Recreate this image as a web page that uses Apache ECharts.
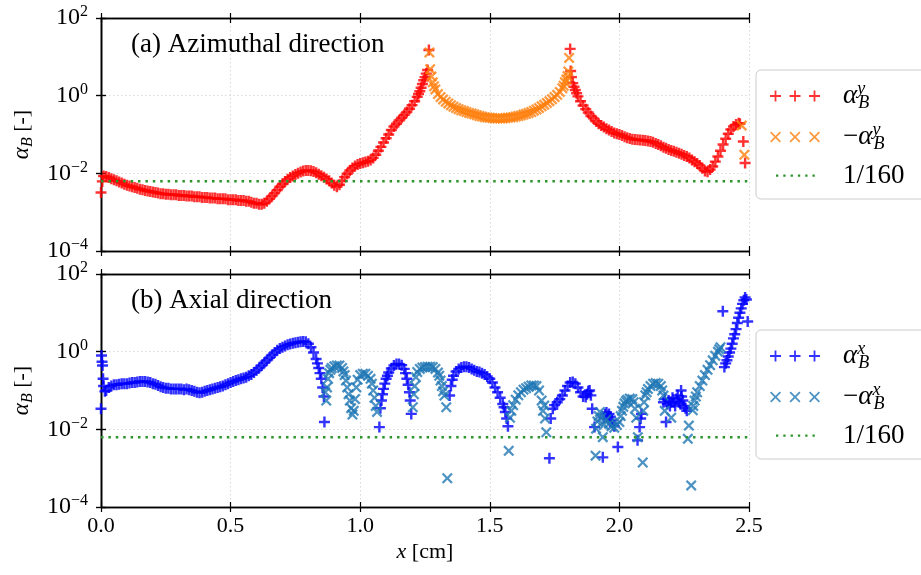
<!DOCTYPE html>
<html><head><meta charset="utf-8">
<script src="https://cdn.jsdelivr.net/npm/echarts@6/dist/echarts.min.js"></script>
<style>html,body{margin:0;padding:0;background:#fff}#c{width:921px;height:575px}</style>
</head><body><div id="c"></div>
<script>
// ---------------- DATA ----------------
const threshold = 1 / 160;
const xExtent = [0, 2.5];
const xTicks = [0, 0.5, 1.0, 1.5, 2.0, 2.5];
const yExtent = [1e-4, 1e2];

// (a) azimuthal: alpha_B^y > 0 (red +)
const azimuthalPlus = [[0,0.0032],[0.005,0.0062],[0.01,0.0085],[0.02,0.0083],[0.03,0.0078],[0.04,0.0073],[0.05,0.0068],[0.06,0.0064],[0.07,0.006],[0.08,0.0056],[0.09,0.0052],[0.1,0.0049],[0.11,0.0047],[0.12,0.0045],[0.13,0.0043],[0.14,0.0041],[0.15,0.0039],[0.16,0.0038],[0.17,0.0036],[0.18,0.0035],[0.19,0.0034],[0.2,0.0033],[0.21,0.0032],[0.22,0.0031],[0.23,0.003],[0.24,0.003],[0.25,0.0029],[0.26,0.0029],[0.27,0.0028],[0.28,0.0028],[0.29,0.0028],[0.3,0.0027],[0.31,0.0027],[0.32,0.0027],[0.33,0.0026],[0.34,0.0026],[0.35,0.0026],[0.36,0.0025],[0.37,0.0025],[0.38,0.0025],[0.39,0.0024],[0.4,0.0024],[0.41,0.0024],[0.42,0.0023],[0.43,0.0023],[0.44,0.0023],[0.45,0.0022],[0.46,0.0022],[0.47,0.0022],[0.48,0.0022],[0.49,0.0021],[0.5,0.0021],[0.51,0.0021],[0.52,0.0021],[0.53,0.002],[0.54,0.002],[0.55,0.002],[0.56,0.0019],[0.57,0.0019],[0.58,0.0018],[0.59,0.0017],[0.6,0.0017],[0.61,0.0016],[0.62,0.0016],[0.63,0.0017],[0.64,0.0019],[0.65,0.0022],[0.66,0.0026],[0.67,0.0031],[0.68,0.0037],[0.69,0.0045],[0.7,0.0053],[0.71,0.0062],[0.72,0.007],[0.73,0.0078],[0.74,0.0086],[0.75,0.0094],[0.76,0.0101],[0.77,0.0108],[0.78,0.0114],[0.79,0.0118],[0.8,0.0119],[0.81,0.0117],[0.82,0.0112],[0.83,0.0104],[0.84,0.0095],[0.85,0.0087],[0.86,0.0079],[0.87,0.0071],[0.88,0.0064],[0.89,0.0056],[0.9,0.0049],[0.91,0.0045],[0.92,0.0051],[0.93,0.0064],[0.94,0.008],[0.95,0.0098],[0.96,0.0118],[0.97,0.0138],[0.98,0.0155],[0.99,0.0168],[1,0.0178],[1.01,0.0186],[1.02,0.0195],[1.03,0.0205],[1.04,0.022],[1.05,0.025],[1.06,0.03],[1.07,0.038],[1.08,0.048],[1.09,0.062],[1.1,0.08],[1.11,0.1],[1.12,0.13],[1.13,0.16],[1.14,0.19],[1.15,0.23],[1.16,0.27],[1.17,0.32],[1.18,0.38],[1.19,0.46],[1.2,0.57],[1.21,0.72],[1.22,0.93],[1.225,1.1],[1.23,1.3],[1.235,1.6],[1.24,2],[1.245,2.5],[1.25,3],[1.255,3.7],[1.26,4.6],[1.265,15],
[1.81,16],[1.812,4.3],[1.815,3],[1.82,2.1],[1.825,1.7],[1.83,1.4],[1.835,1.15],[1.84,0.96],[1.85,0.72],[1.86,0.56],[1.87,0.45],[1.88,0.37],[1.89,0.3],[1.9,0.26],[1.91,0.22],[1.92,0.19],[1.93,0.17],[1.94,0.155],[1.95,0.14],[1.96,0.13],[1.97,0.12],[1.98,0.11],[1.99,0.105],[2,0.1],[2.01,0.094],[2.02,0.088],[2.03,0.083],[2.04,0.079],[2.05,0.076],[2.06,0.074],[2.07,0.073],[2.08,0.072],[2.09,0.071],[2.1,0.07],[2.11,0.068],[2.12,0.066],[2.13,0.063],[2.14,0.059],[2.15,0.055],[2.16,0.051],[2.17,0.047],[2.18,0.044],[2.19,0.041],[2.2,0.039],[2.21,0.037],[2.22,0.035],[2.23,0.033],[2.24,0.031],[2.25,0.029],[2.26,0.027],[2.27,0.025],[2.28,0.022],[2.29,0.02],[2.3,0.018],[2.31,0.016],[2.32,0.0135],[2.33,0.0115],[2.34,0.011],[2.35,0.0125],[2.36,0.015],[2.37,0.02],[2.38,0.027],[2.39,0.038],[2.4,0.055],[2.41,0.078],[2.42,0.105],[2.43,0.135],[2.44,0.16],[2.45,0.18],[2.46,0.195],[2.465,0.19],[2.478,0.066],[2.485,0.0185]];

// (a) azimuthal: -alpha_B^y > 0 (orange x)
const azimuthalMinus = [[1.267,13],[1.27,4.8],[1.275,3.1],[1.28,2.2],[1.285,1.75],[1.29,1.45],[1.3,1.1],[1.31,0.92],[1.32,0.8],[1.33,0.7],[1.34,0.63],[1.35,0.57],[1.36,0.52],[1.37,0.48],[1.38,0.45],[1.39,0.42],[1.4,0.4],[1.41,0.38],[1.42,0.36],[1.43,0.345],[1.44,0.33],[1.45,0.315],[1.46,0.3],[1.47,0.29],[1.48,0.28],[1.49,0.275],[1.5,0.27],[1.51,0.265],[1.52,0.26],[1.53,0.26],[1.54,0.26],[1.55,0.26],[1.56,0.265],[1.57,0.27],[1.58,0.275],[1.59,0.28],[1.6,0.29],[1.61,0.3],[1.62,0.31],[1.63,0.325],[1.64,0.34],[1.65,0.36],[1.66,0.38],[1.67,0.41],[1.68,0.44],[1.69,0.48],[1.7,0.53],[1.71,0.58],[1.72,0.65],[1.73,0.72],[1.74,0.81],[1.75,0.92],[1.76,1.05],[1.77,1.25],[1.78,1.55],[1.785,1.8],[1.79,2.2],[1.795,2.6],[1.8,3.2],[1.803,4.2],[1.806,9.4],[2.472,0.17],[2.482,0.03]];

// (b) axial: alpha_B^x > 0 (blue +)
const axialPlus = [[0,0.034],[0.002,0.8],[0.004,0.55],[0.006,0.44],[0.008,0.2],[0.01,0.13],[0.015,0.095],[0.02,0.1],[0.03,0.12],[0.04,0.13],[0.05,0.14],[0.06,0.14],[0.07,0.145],[0.08,0.15],[0.09,0.15],[0.1,0.15],[0.11,0.155],[0.12,0.16],[0.13,0.16],[0.14,0.165],[0.15,0.17],[0.16,0.17],[0.17,0.17],[0.18,0.165],[0.19,0.16],[0.2,0.15],[0.21,0.145],[0.22,0.135],[0.23,0.125],[0.24,0.12],[0.25,0.115],[0.26,0.115],[0.27,0.11],[0.28,0.11],[0.29,0.11],[0.3,0.11],[0.31,0.11],[0.32,0.105],[0.33,0.11],[0.34,0.105],[0.35,0.1],[0.36,0.095],[0.37,0.09],[0.38,0.088],[0.39,0.09],[0.4,0.095],[0.41,0.1],[0.42,0.105],[0.43,0.11],[0.44,0.115],[0.45,0.12],[0.46,0.125],[0.47,0.13],[0.48,0.14],[0.49,0.15],[0.5,0.16],[0.51,0.17],[0.52,0.18],[0.53,0.19],[0.54,0.2],[0.55,0.21],[0.56,0.22],[0.57,0.24],[0.58,0.26],[0.59,0.29],[0.6,0.33],[0.61,0.38],[0.62,0.44],[0.63,0.52],[0.64,0.6],[0.65,0.7],[0.66,0.82],[0.67,0.95],[0.68,1.08],[0.69,1.2],[0.7,1.3],[0.71,1.4],[0.72,1.5],[0.73,1.58],[0.74,1.64],[0.75,1.7],[0.76,1.75],[0.77,1.8],[0.78,1.83],[0.79,1.8],[0.8,1.6],[0.81,1.3],[0.82,0.95],[0.83,0.65],[0.835,0.5],[0.84,0.38],[0.845,0.28],[0.85,0.2],[0.855,0.12],[0.86,0.07],[0.862,0.0154],
[1.074,0.0114],[1.078,0.035],[1.082,0.055],[1.086,0.08],[1.09,0.11],[1.095,0.15],[1.1,0.2],[1.105,0.24],[1.11,0.29],[1.12,0.37],[1.13,0.44],[1.14,0.48],[1.15,0.48],[1.16,0.45],[1.17,0.36],[1.175,0.28],[1.18,0.2],[1.185,0.14],[1.19,0.09],[1.193,0.055],[1.197,0.025],
[1.345,0.074],[1.35,0.13],[1.355,0.19],[1.36,0.24],[1.37,0.31],[1.38,0.36],[1.39,0.39],[1.4,0.41],[1.41,0.41],[1.42,0.39],[1.43,0.36],[1.44,0.33],[1.45,0.31],[1.46,0.3],[1.47,0.28],[1.48,0.26],[1.49,0.23],[1.5,0.2],[1.51,0.16],[1.52,0.12],[1.53,0.09],[1.54,0.065],[1.55,0.045],[1.555,0.037],[1.56,0.028],[1.565,0.019],[1.57,0.012],
[1.73,0.0018],[1.735,0.019],[1.743,0.034],[1.75,0.042],[1.76,0.05],[1.77,0.06],[1.78,0.074],[1.79,0.1],[1.8,0.13],[1.81,0.16],[1.82,0.165],[1.83,0.15],[1.84,0.12],[1.85,0.09],[1.86,0.07],[1.87,0.068],[1.875,0.08],[1.88,0.095],[1.885,0.1],[1.89,0.075],[1.895,0.034],[1.904,0.0114],
[1.936,0.0019],[1.94,0.02],[1.945,0.024],[1.95,0.027],[1.955,0.022],[1.96,0.025],[1.965,0.021],[1.97,0.017],[1.975,0.014],[1.98,0.012],[1.994,0.0035],
[2.07,0.0052],[2.078,0.0114],[2.082,0.019],[2.085,0.025],
[2.17,0.05],[2.175,0.06],[2.18,0.0154],[2.185,0.045],[2.19,0.055],[2.195,0.04],[2.2,0.05],[2.205,0.065],[2.21,0.05],[2.215,0.04],[2.22,0.06],[2.225,0.075],[2.23,0.05],[2.235,0.045],[2.238,0.1],[2.24,0.07],[2.245,0.055],[2.25,0.04],[2.255,0.035],[2.26,0.03],
[2.399,11],[2.405,0.4],[2.41,0.5],[2.415,0.6],[2.42,0.75],[2.425,0.95],[2.43,1.2],[2.435,1.6],[2.44,2.2],[2.445,2.8],[2.45,3.8],[2.455,5.5],[2.46,7.5],[2.465,10],[2.47,13],[2.475,17],[2.48,21],[2.485,25],[2.49,22],[2.495,6]];

// (b) axial: -alpha_B^x > 0 (steel-blue x)
const axialMinus = [[0.865,0.09],[0.869,0.055],[0.872,0.12],[0.876,0.2],[0.88,0.28],[0.885,0.34],[0.89,0.38],[0.9,0.42],[0.91,0.44],[0.92,0.44],[0.93,0.38],[0.935,0.31],[0.94,0.25],[0.945,0.18],[0.95,0.12],[0.955,0.08],[0.96,0.055],[0.965,0.035],[0.97,0.024],[0.975,0.03],[0.98,0.06],[0.985,0.12],[0.99,0.19],[1,0.25],[1.01,0.27],[1.02,0.27],[1.03,0.24],[1.04,0.2],[1.045,0.15],[1.05,0.1],[1.055,0.065],[1.06,0.04],[1.065,0.028],
[1.203,0.037],[1.207,0.08],[1.21,0.13],[1.215,0.22],[1.22,0.3],[1.23,0.36],[1.24,0.39],[1.25,0.4],[1.26,0.41],[1.27,0.41],[1.28,0.4],[1.29,0.36],[1.3,0.29],[1.305,0.24],[1.31,0.18],[1.315,0.13],[1.32,0.095],[1.325,0.074],[1.332,0.037],[1.336,0.00055],
[1.573,0.0028],[1.578,0.02],[1.583,0.03],[1.59,0.042],[1.6,0.058],[1.61,0.075],[1.62,0.09],[1.63,0.105],[1.64,0.115],[1.65,0.125],[1.66,0.135],[1.67,0.135],[1.68,0.13],[1.69,0.1],[1.7,0.055],[1.705,0.03],[1.71,0.041],[1.713,0.019],[1.718,0.0084],
[1.908,0.0021],[1.91,0.0104],[1.915,0.016],[1.92,0.022],[1.925,0.028],[1.93,0.02],[1.936,0.0063],[1.94,0.013],[1.95,0.018],[1.96,0.014],[1.97,0.012],[1.98,0.011],[1.99,0.013],[2,0.0154],[2.005,0.022],[2.01,0.03],[2.015,0.038],[2.02,0.046],[2.025,0.053],[2.03,0.058],[2.04,0.062],[2.05,0.06],[2.055,0.05],[2.06,0.034],[2.065,0.02],[2.071,0.0063],
[2.09,0.0014],[2.092,0.03],[2.095,0.05],[2.1,0.075],[2.105,0.09],[2.11,0.11],[2.12,0.13],[2.13,0.15],[2.14,0.155],[2.15,0.15],[2.16,0.13],[2.165,0.1],[2.17,0.074],[2.175,0.03],[2.2,0.02],
[2.264,0.0057],[2.268,0.0125],[2.277,0.00036],[2.283,0.031],[2.285,0.04],[2.29,0.055],[2.295,0.07],[2.3,0.09],[2.31,0.13],[2.32,0.18],[2.33,0.25],[2.34,0.34],[2.35,0.45],[2.36,0.6],[2.37,0.78],[2.38,1.0],[2.385,1.15],[2.39,1.3]];

// ---------------- STYLE ----------------
const SERIF = "'Liberation Serif','DejaVu Serif',serif";
const RED = '#ff0000', ORANGE = '#ff7f0e', BLUE = '#0000ff', STEEL = '#1f77b4', GREEN = '#2c962c';
const PLUS = 'path://M3.9,0H6.1V3.9H10V6.1H6.1V10H3.9V6.1H0V3.9H3.9Z';
const CROSS = 'path://M0,1.45L1.45,0L5,3.55L8.55,0L10,1.45L6.45,5L10,8.55L8.55,10L5,6.45L1.45,10L0,8.55L3.55,5Z';
function plus3() {
  let p = 'path://';
  [0, 19.5, 39].forEach(o => {
    p += `M${o+4.6},0H${o+6.4}V4.6H${o+11}V6.4H${o+6.4}V11H${o+4.6}V6.4H${o}V4.6H${o+4.6}Z`;
  });
  return p;
}
function cross3() {
  let p = 'path://';
  [0, 19.5, 39].forEach(o => {
    p += `M${o},1.25L${o+1.25},0L${o+5.5},4.25L${o+9.75},0L${o+11},1.25L${o+6.75},5.5L${o+11},9.75L${o+9.75},11L${o+5.5},6.75L${o+1.25},11L${o},9.75L${o+4.25},5.5Z`;
  });
  return p;
}
function dots6() {
  let p = 'path://M0,0L0.01,0L0,0.01ZM50,11L49.99,11L50,10.99Z';
  for (let k = 0; k < 6; k++) {
    const x = 6 + k * 7.3;
    p += `M${x},4.4H${x+2.3}V6.7H${x}Z`;
  }
  return p;
}

const grids = [
  { left: 101, top: 18, width: 648, height: 233 },
  { left: 101, top: 18, width: 648, height: 233 },
  { left: 101, top: 274, width: 648, height: 233 },
  { left: 101, top: 274, width: 648, height: 233 }
];

const AXIS_LINE = { show: true, lineStyle: { color: '#000', width: 1.3 } };
const SPLIT = { show: true, lineStyle: { color: '#cfcfcf', width: 0.8, type: [1.5, 2.5] } };

function tickFmt(v) {
  const e = Math.round(Math.log10(v));
  return '{m|10}{e|' + (e < 0 ? '\u2212' + (-e) : e) + '}';
}
const tickRich = {
  m: { fontFamily: SERIF, fontSize: 24, lineHeight: 28, color: '#000' },
  e: { fontFamily: SERIF, fontSize: 16, lineHeight: 16, verticalAlign: 'top', color: '#000' }
};

const xAxes = [], yAxes = [];
grids.forEach((g, gi) => {
  const main = gi % 2 === 0;
  const bottomPanel = gi >= 2;
  ['bottom', 'top'].forEach(pos => {
    const isMainBottom = main && pos === 'bottom';
    xAxes.push({
      type: 'value', gridIndex: gi, position: pos, min: xExtent[0], max: xExtent[1], interval: 0.5,
      axisLine: AXIS_LINE,
      axisTick: { show: true, inside: !main, length: 5, lineStyle: { color: '#000', width: 1.2 } },
      axisLabel: {
        show: isMainBottom && bottomPanel, margin: 8,
        formatter: v => v.toFixed(1),
        fontFamily: SERIF, fontSize: 22, color: '#000'
      },
      splitLine: isMainBottom ? SPLIT : { show: false },
      name: (isMainBottom && bottomPanel) ? '{i|x}{n| [cm]}' : '',
      nameLocation: 'middle', nameGap: 34,
      nameTextStyle: {
        color: '#000',
        rich: {
          i: { fontFamily: SERIF, fontStyle: 'italic', fontSize: 22 },
          n: { fontFamily: SERIF, fontSize: 22 }
        }
      }
    });
  });
  ['left', 'right'].forEach(pos => {
    const isMainLeft = main && pos === 'left';
    yAxes.push({
      type: 'log', logBase: 10, gridIndex: gi, position: pos, min: yExtent[0], max: yExtent[1], interval: 2,
      axisLine: AXIS_LINE,
      axisTick: { show: true, inside: !main, length: 5, lineStyle: { color: '#000', width: 1.2 } },
      minorTick: { show: false },
      axisLabel: { show: isMainLeft, margin: 13, formatter: tickFmt, rich: tickRich },
      splitLine: isMainLeft ? SPLIT : { show: false },
      name: isMainLeft ? '{i|\u03b1}{sub|B}{n| [-]}' : '',
      nameLocation: 'middle', nameRotate: 90, nameGap: 62,
      nameTextStyle: {
        color: '#000',
        rich: {
          i: { fontFamily: SERIF, fontStyle: 'italic', fontSize: 23, lineHeight: 28 },
          sub: { fontFamily: SERIF, fontStyle: 'italic', fontSize: 16, lineHeight: 15, verticalAlign: 'bottom' },
          n: { fontFamily: SERIF, fontSize: 22, lineHeight: 28 }
        }
      }
    });
  });
});
// axis indices: grid gi -> x axes 2*gi (bottom), 2*gi+1 (top); y axes 2*gi (left), 2*gi+1 (right)

function scatter(name, data, color, symbol, gi) {
  return {
    name, type: 'scatter', data, xAxisIndex: 2 * gi, yAxisIndex: 2 * gi,
    symbol, symbolSize: 11, itemStyle: { color }, color, z: 2
  };
}
function thresholdLine(name, gi) {
  return {
    name, type: 'line', xAxisIndex: 2 * gi, yAxisIndex: 2 * gi,
    data: [[xExtent[0], threshold], [xExtent[1], threshold]],
    symbol: 'none', color: GREEN, itemStyle: { color: GREEN },
    lineStyle: { color: GREEN, width: 2.5, type: [2.5, 4.9], cap: 'butt' }, z: 4
  };
}

const legendNames = {
  azPlus: '{g| }{i|\u03b1}{sup|y}{sub|B}',
  azMinus: '{g| }{n|\u2212}{i|\u03b1}{sup|y}{sub|B}',
  azThr: '{g| }{n|1/160}',
  axPlus: '{g| }{i|\u03b1}{sup|x}{sub|B}',
  axMinus: '{g| }{n|\u2212}{i|\u03b1}{sup|x}{sub|B}',
  axThr: '{g| }{n|1/160}'
};
const legendRich = {
  g: { width: 18, fontSize: 10, lineHeight: 32 },
  i: { fontFamily: SERIF, fontStyle: 'italic', fontSize: 27, lineHeight: 32, color: '#000' },
  n: { fontFamily: SERIF, fontSize: 27, lineHeight: 32, color: '#000' },
  sup: { fontFamily: SERIF, fontStyle: 'italic', fontSize: 18, lineHeight: 16, verticalAlign: 'top', width: 1, color: '#000' },
  sub: { fontFamily: SERIF, fontStyle: 'italic', fontSize: 18, lineHeight: 16, verticalAlign: 'bottom', color: '#000' }
};
function legend(top, names) {
  return {
    left: 756, top, orient: 'vertical', selectedMode: false,
    data: [
      { name: names[0], icon: plus3() },
      { name: names[1], icon: cross3() },
      { name: names[2], icon: dots6() }
    ],
    itemWidth: 50, itemHeight: 11, itemGap: 9,
    padding: [10, 60, 10, 14],
    backgroundColor: '#fff', borderColor: '#cccccc', borderWidth: 1, borderRadius: 5,
    formatter: n => legendNames[n],
    textStyle: { rich: legendRich }
  };
}

const chart = echarts.init(document.getElementById('c'), null, { renderer: 'canvas' });
chart.setOption({
  animation: false,
  backgroundColor: '#fff',
  title: [
    { text: '(a) Azimuthal direction', left: 131, top: 31, padding: 0,
      textStyle: { fontFamily: SERIF, fontSize: 27, fontWeight: 'normal', color: '#000' } },
    { text: '(b) Axial direction', left: 131, top: 287, padding: 0,
      textStyle: { fontFamily: SERIF, fontSize: 27, fontWeight: 'normal', color: '#000' } }
  ],
  grid: grids,
  xAxis: xAxes,
  yAxis: yAxes,
  legend: [legend(70, ['azPlus', 'azMinus', 'azThr']), legend(330, ['axPlus', 'axMinus', 'axThr'])],
  series: [
    scatter('azPlus', azimuthalPlus, RED, PLUS, 0),
    scatter('azMinus', azimuthalMinus, ORANGE, CROSS, 0),
    thresholdLine('azThr', 0),
    scatter('axPlus', axialPlus, BLUE, PLUS, 2),
    scatter('axMinus', axialMinus, STEEL, CROSS, 2),
    thresholdLine('axThr', 2)
  ]
});
</script>
</body></html>
